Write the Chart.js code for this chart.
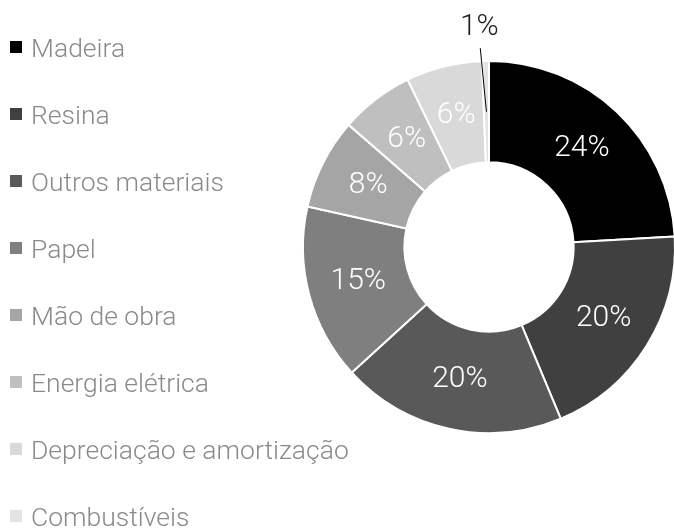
<!DOCTYPE html>
<html>
<head>
<meta charset="utf-8">
<script src="https://cdn.jsdelivr.net/npm/chart.js@4"></script>
<style>
  html, body { margin: 0; padding: 0; background: #fff; }
  body { width: 674px; height: 529px; overflow: hidden; position: relative; font-family: Roboto, sans-serif; }
  #wrap { position: absolute; left: 0; top: 0; width: 680px; height: 529px; }
  #legend { position: absolute; left: 10px; top: 13.5px; margin: 0; padding: 0; list-style: none; }
  #legend li { display: flex; align-items: center; height: 67px; font-size: 26.5px; font-weight: 300; color: #8a8a8a; white-space: nowrap; }
  #legend li span { display: inline-block; width: 12px; height: 12px; margin-right: 9px; }
</style>
</head>
<body>
<div id="wrap"><canvas id="costChart" width="680" height="529"></canvas></div>
<ul id="legend"></ul>
<script>
const categories = ['Madeira', 'Resina', 'Outros materiais', 'Papel', 'Mão de obra', 'Energia elétrica', 'Depreciação e amortização', 'Combustíveis'];
const shares = [24.1, 19.6, 19.5, 15.3, 7.9, 6.4, 6.6, 0.6];
const shareLabels = ['24%', '20%', '20%', '15%', '8%', '6%', '6%', '1%'];
const colors = ['#000000', '#404040', '#595959', '#7f7f7f', '#a5a5a5', '#bfbfbf', '#d9d9d9', '#e3e3e3'];

// legend on the left
const legendEl = document.getElementById('legend');
categories.forEach((name, i) => {
  const li = document.createElement('li');
  const box = document.createElement('span');
  box.style.background = colors[i];
  li.appendChild(box);
  li.appendChild(document.createTextNode(name));
  legendEl.appendChild(li);
});

const sliceLabels = {
  id: 'sliceLabels',
  afterDatasetsDraw(chart) {
    const ctx = chart.ctx;
    const arcs = chart.getDatasetMeta(0).data;
    ctx.save();
    ctx.font = '300 30px Roboto, sans-serif';
    ctx.textAlign = 'center';
    ctx.textBaseline = 'middle';
    arcs.forEach((arc, i) => {
      const pos = arc.tooltipPosition();
      if (shares[i] >= 3) {
        ctx.fillStyle = '#ffffff';
        ctx.fillText(shareLabels[i], pos.x, pos.y);
      } else {
        // small slice: label outside with a leader line
        const mid = (arc.startAngle + arc.endAngle) / 2 - 0.025;
        const r1 = arc.outerRadius + 13;
        const r2 = arc.outerRadius + 34;
        ctx.strokeStyle = '#000000';
        ctx.lineWidth = 1;
        ctx.beginPath();
        ctx.moveTo(pos.x, pos.y);
        ctx.lineTo(arc.x + Math.cos(mid) * r1, arc.y + Math.sin(mid) * r1);
        ctx.stroke();
        ctx.fillStyle = '#222222';
        ctx.fillText(shareLabels[i], arc.x + Math.cos(mid) * r2, arc.y + Math.sin(mid) * r2);
      }
    });
    ctx.restore();
  }
};

new Chart(document.getElementById('costChart').getContext('2d'), {
  type: 'doughnut',
  data: {
    labels: categories,
    datasets: [{
      data: shares,
      backgroundColor: colors,
      borderColor: '#ffffff',
      borderWidth: 2,
      offset: 0,
      hoverOffset: 0
    }]
  },
  options: {
    responsive: false,
    animation: false,
    cutout: '45.5%',
    layout: {
      padding: { left: 302, right: 4, top: 60, bottom: 95 }
    },
    plugins: {
      legend: { display: false },
      tooltip: { enabled: false }
    }
  },
  plugins: [sliceLabels]
});
</script>
</body>
</html>
